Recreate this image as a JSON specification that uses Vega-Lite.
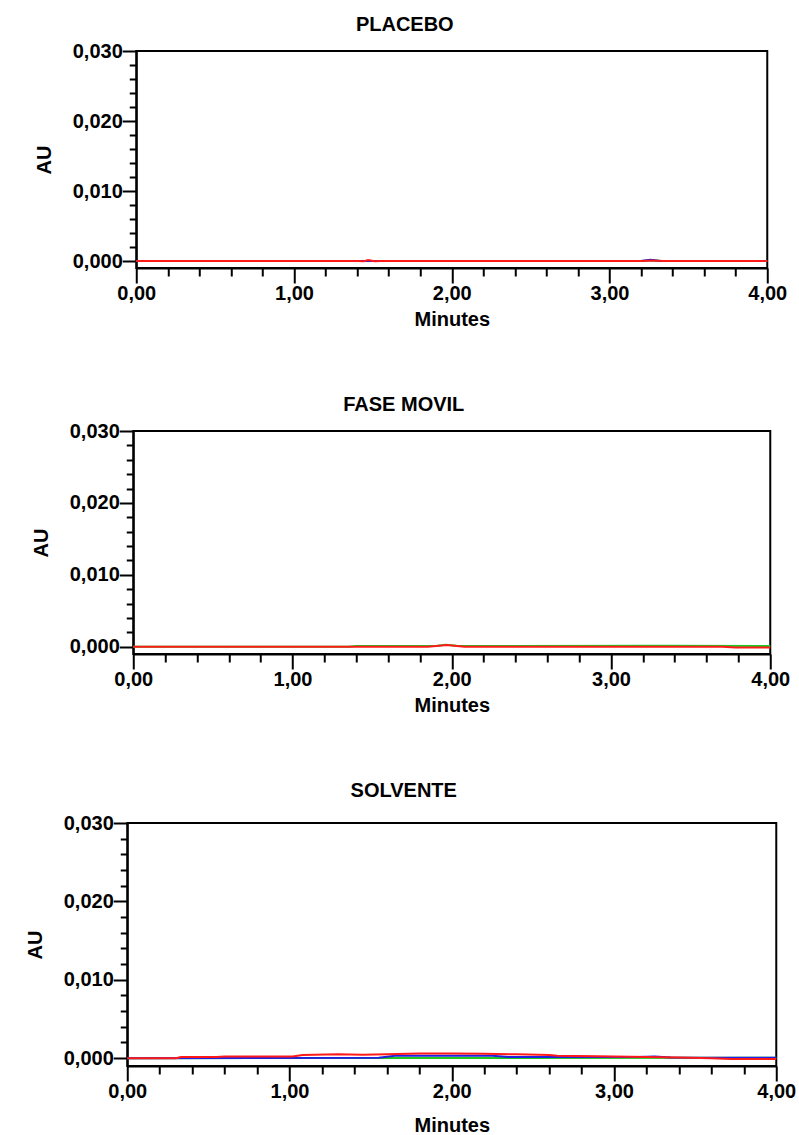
{
  "$schema": "https://vega.github.io/schema/vega-lite/v6.json",
  "padding": {"top": 14, "left": 24, "right": 0, "bottom": 0},
  "background": "white",
  "center": true,
  "spacing": 64,
  "datasets": {
    "placebo": [
      {"s": "verde", "t": 0, "v": 0}, {"s": "verde", "t": 3.2, "v": 0}, {"s": "verde", "t": 3.27, "v": 0.0001}, {"s": "verde", "t": 3.33, "v": 0}, {"s": "verde", "t": 4, "v": 0},
      {"s": "azul", "t": 0, "v": 0}, {"s": "azul", "t": 3.2, "v": 0}, {"s": "azul", "t": 3.26, "v": 0.00016}, {"s": "azul", "t": 3.32, "v": 0}, {"s": "azul", "t": 4, "v": 0},
      {"s": "rojo", "t": 0, "v": 0}, {"s": "rojo", "t": 1.4, "v": 0}, {"s": "rojo", "t": 1.44, "v": -0.00005}, {"s": "rojo", "t": 1.47, "v": 0.00015}, {"s": "rojo", "t": 1.51, "v": -0.00005}, {"s": "rojo", "t": 1.55, "v": 0}, {"s": "rojo", "t": 3.2, "v": 0}, {"s": "rojo", "t": 3.27, "v": 0.00008}, {"s": "rojo", "t": 3.34, "v": 0}, {"s": "rojo", "t": 4, "v": 0}
    ],
    "fase": [
      {"s": "verde", "t": 0, "v": 0}, {"s": "verde", "t": 1.35, "v": 0}, {"s": "verde", "t": 1.4, "v": 0.00012}, {"s": "verde", "t": 1.9, "v": 0.00012}, {"s": "verde", "t": 1.96, "v": 0.0003}, {"s": "verde", "t": 2.03, "v": 0.00015}, {"s": "verde", "t": 2.2, "v": 0.0001}, {"s": "verde", "t": 3.3, "v": 0.00013}, {"s": "verde", "t": 4, "v": 0.00012},
      {"s": "rojo", "t": 0, "v": 0}, {"s": "rojo", "t": 1.85, "v": 0}, {"s": "rojo", "t": 1.97, "v": 0.00025}, {"s": "rojo", "t": 2.08, "v": 0.00002}, {"s": "rojo", "t": 3.7, "v": 0}, {"s": "rojo", "t": 3.78, "v": -0.0001}, {"s": "rojo", "t": 4, "v": -0.0001}
    ],
    "solvente": [
      {"s": "verde", "t": 0, "v": 0}, {"s": "verde", "t": 2, "v": 0.00002}, {"s": "verde", "t": 4, "v": 0.00004},
      {"s": "azul", "t": 0, "v": 0}, {"s": "azul", "t": 1.55, "v": 0.00005}, {"s": "azul", "t": 1.65, "v": 0.0003}, {"s": "azul", "t": 2.25, "v": 0.0003}, {"s": "azul", "t": 2.35, "v": 0.00015}, {"s": "azul", "t": 3.15, "v": 0.00015}, {"s": "azul", "t": 3.25, "v": 0.0002}, {"s": "azul", "t": 3.35, "v": 0.0001}, {"s": "azul", "t": 4, "v": 0.00004},
      {"s": "rojo", "t": 0, "v": 0}, {"s": "rojo", "t": 0.3, "v": 0}, {"s": "rojo", "t": 0.33, "v": 0.00015}, {"s": "rojo", "t": 0.55, "v": 0.00015}, {"s": "rojo", "t": 0.6, "v": 0.0002}, {"s": "rojo", "t": 1.02, "v": 0.0002}, {"s": "rojo", "t": 1.08, "v": 0.0004}, {"s": "rojo", "t": 1.3, "v": 0.0005}, {"s": "rojo", "t": 1.45, "v": 0.00045}, {"s": "rojo", "t": 1.6, "v": 0.0005}, {"s": "rojo", "t": 1.8, "v": 0.0006}, {"s": "rojo", "t": 2.0, "v": 0.0006}, {"s": "rojo", "t": 2.2, "v": 0.00055}, {"s": "rojo", "t": 2.4, "v": 0.0005}, {"s": "rojo", "t": 2.6, "v": 0.0004}, {"s": "rojo", "t": 2.65, "v": 0.0003}, {"s": "rojo", "t": 2.9, "v": 0.00025}, {"s": "rojo", "t": 3.2, "v": 0.00015}, {"s": "rojo", "t": 3.4, "v": 0.0001}, {"s": "rojo", "t": 3.6, "v": 0}, {"s": "rojo", "t": 3.72, "v": -0.0001}, {"s": "rojo", "t": 4, "v": -0.0001}
    ]
  },
  "vconcat": [
    {
      "title": {"text": "PLACEBO", "dx": -47, "offset": 6},
      "width": 631, "height": 217,
      "data": {"name": "placebo"},
      "layer": [
        {"transform": [{"filter": "datum.s == 'verde'"}], "mark": {"type": "line", "color": "#1ec81e", "strokeWidth": 2},
         "encoding": {
           "x": {"field": "t", "type": "quantitative", "scale": {"domain": [0, 4], "nice": false, "zero": false}, "axis": {"orient": "bottom", "title": "Minutes", "values": [0, 1, 2, 3, 4], "format": ".2f", "tickSize": 15, "labelPadding": 0, "titlePadding": 6}},
           "y": {"field": "v", "type": "quantitative", "scale": {"domain": [-0.001, 0.03], "nice": false, "zero": false}, "axis": {"orient": "left", "title": "AU", "values": [0, 0.01, 0.02, 0.03], "format": ".3f", "tickSize": 14, "labelPadding": 0, "titlePadding": 18}}}},
        {"transform": [{"filter": "datum.s == 'azul'"}], "mark": {"type": "line", "color": "#2020e0", "strokeWidth": 2},
         "encoding": {"x": {"field": "t", "type": "quantitative", "axis": null}, "y": {"field": "v", "type": "quantitative", "axis": null}}},
        {"transform": [{"filter": "datum.s == 'rojo'"}], "mark": {"type": "line", "color": "#ff1a1a", "strokeWidth": 2},
         "encoding": {
           "x": {"field": "t", "type": "quantitative", "axis": {"orient": "bottom", "title": null, "labels": false, "domain": false, "tickSize": 8, "values": [0.2, 0.4, 0.6, 0.8, 1.2, 1.4, 1.6, 1.8, 2.2, 2.4, 2.6, 2.8, 3.2, 3.4, 3.6, 3.8]}},
           "y": {"field": "v", "type": "quantitative", "axis": {"orient": "left", "title": null, "labels": false, "domain": false, "tickSize": 7, "values": [0.002, 0.004, 0.006, 0.008, 0.012, 0.014, 0.016, 0.018, 0.022, 0.024, 0.026, 0.028]}}}}
      ],
      "resolve": {"axis": {"x": "independent", "y": "independent"}}
    },
    {
      "title": {"text": "FASE MOVIL", "dx": -48, "offset": 6},
      "width": 637, "height": 223,
      "data": {"name": "fase"},
      "layer": [
        {"transform": [{"filter": "datum.s == 'verde'"}], "mark": {"type": "line", "color": "#1ec81e", "strokeWidth": 2},
         "encoding": {
           "x": {"field": "t", "type": "quantitative", "scale": {"domain": [0, 4], "nice": false, "zero": false}, "axis": {"orient": "bottom", "title": "Minutes", "values": [0, 1, 2, 3, 4], "format": ".2f", "tickSize": 15, "labelPadding": 0, "titlePadding": 6}},
           "y": {"field": "v", "type": "quantitative", "scale": {"domain": [-0.001, 0.03], "nice": false, "zero": false}, "axis": {"orient": "left", "title": "AU", "values": [0, 0.01, 0.02, 0.03], "format": ".3f", "tickSize": 14, "labelPadding": 0, "titlePadding": 18}}}},
        {"transform": [{"filter": "datum.s == 'azul'"}], "mark": {"type": "line", "color": "#2020e0", "strokeWidth": 2},
         "encoding": {"x": {"field": "t", "type": "quantitative", "axis": null}, "y": {"field": "v", "type": "quantitative", "axis": null}}},
        {"transform": [{"filter": "datum.s == 'rojo'"}], "mark": {"type": "line", "color": "#ff1a1a", "strokeWidth": 2},
         "encoding": {
           "x": {"field": "t", "type": "quantitative", "axis": {"orient": "bottom", "title": null, "labels": false, "domain": false, "tickSize": 8, "values": [0.2, 0.4, 0.6, 0.8, 1.2, 1.4, 1.6, 1.8, 2.2, 2.4, 2.6, 2.8, 3.2, 3.4, 3.6, 3.8]}},
           "y": {"field": "v", "type": "quantitative", "axis": {"orient": "left", "title": null, "labels": false, "domain": false, "tickSize": 7, "values": [0.002, 0.004, 0.006, 0.008, 0.012, 0.014, 0.016, 0.018, 0.022, 0.024, 0.026, 0.028]}}}}
      ],
      "resolve": {"axis": {"x": "independent", "y": "independent"}}
    },
    {
      "title": {"text": "SOLVENTE", "dx": -48, "offset": 12},
      "width": 649, "height": 243,
      "data": {"name": "solvente"},
      "layer": [
        {"transform": [{"filter": "datum.s == 'verde'"}], "mark": {"type": "line", "color": "#1ec81e", "strokeWidth": 2},
         "encoding": {
           "x": {"field": "t", "type": "quantitative", "scale": {"domain": [0, 4], "nice": false, "zero": false}, "axis": {"orient": "bottom", "title": "Minutes", "values": [0, 1, 2, 3, 4], "format": ".2f", "tickSize": 15, "labelPadding": 0, "titlePadding": 14}},
           "y": {"field": "v", "type": "quantitative", "scale": {"domain": [-0.001, 0.03], "nice": false, "zero": false}, "axis": {"orient": "left", "title": "AU", "values": [0, 0.01, 0.02, 0.03], "format": ".3f", "tickSize": 14, "labelPadding": 0, "titlePadding": 18}}}},
        {"transform": [{"filter": "datum.s == 'azul'"}], "mark": {"type": "line", "color": "#2020e0", "strokeWidth": 2},
         "encoding": {"x": {"field": "t", "type": "quantitative", "axis": null}, "y": {"field": "v", "type": "quantitative", "axis": null}}},
        {"transform": [{"filter": "datum.s == 'rojo'"}], "mark": {"type": "line", "color": "#ff1a1a", "strokeWidth": 2},
         "encoding": {
           "x": {"field": "t", "type": "quantitative", "axis": {"orient": "bottom", "title": null, "labels": false, "domain": false, "tickSize": 8, "values": [0.2, 0.4, 0.6, 0.8, 1.2, 1.4, 1.6, 1.8, 2.2, 2.4, 2.6, 2.8, 3.2, 3.4, 3.6, 3.8]}},
           "y": {"field": "v", "type": "quantitative", "axis": {"orient": "left", "title": null, "labels": false, "domain": false, "tickSize": 7, "values": [0.002, 0.004, 0.006, 0.008, 0.012, 0.014, 0.016, 0.018, 0.022, 0.024, 0.026, 0.028]}}}}
      ],
      "resolve": {"axis": {"x": "independent", "y": "independent"}}
    }
  ],
  "config": {
    "locale": {"number": {"decimal": ",", "thousands": ".", "grouping": [3], "currency": ["", " €"]}},
    "font": "Liberation Sans",
    "view": {"stroke": "black", "strokeWidth": 2},
    "title": {"fontSize": 20, "fontWeight": "bold", "color": "black", "anchor": "middle", "font": "Liberation Sans"},
    "axis": {
      "grid": false,
      "domainColor": "black", "domainWidth": 2,
      "tickColor": "black", "tickWidth": 2,
      "labelColor": "black", "labelFontSize": 20, "labelFont": "Liberation Sans", "labelFontWeight": "bold",
      "titleColor": "black", "titleFontSize": 20, "titleFontWeight": "bold", "titleFont": "Liberation Sans",
      "labelFlush": false, "labelOverlap": false, "labelBound": false
    }
  }
}
